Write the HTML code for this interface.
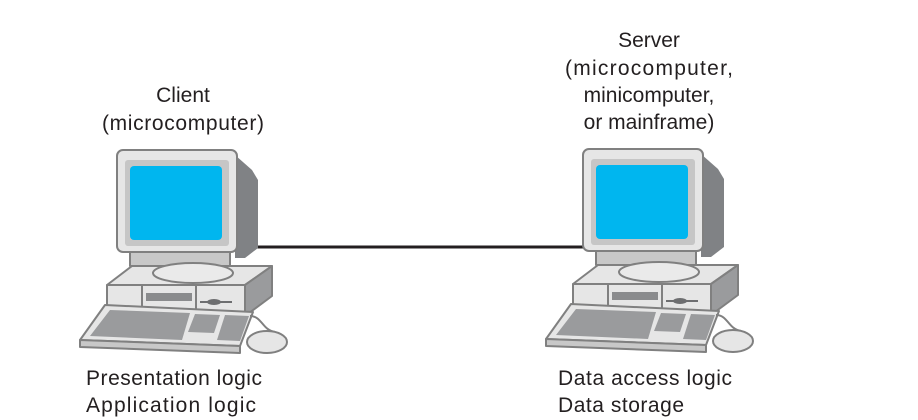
<!DOCTYPE html>
<html><head><style>
html,body{margin:0;padding:0;background:#fff;}
svg{display:block;}
text{font-family:"Liberation Sans",sans-serif;font-size:21px;fill:#231f20;}
</style></head><body>
<svg width="918" height="420" viewBox="0 0 918 420">
<defs>
<g id="pc" stroke="#808080" stroke-width="2" stroke-linejoin="round">
  <polygon points="107,285 132,266 272,266 245,285" fill="#e6e6e6"/>
  <polygon points="245,285 272,266 272,296 245,316" fill="#9a9b9d"/>
  <rect x="107" y="285" width="138" height="31" fill="#e6e6e6"/>
  <line x1="142" y1="285" x2="142" y2="316"/>
  <line x1="196" y1="285" x2="196" y2="316"/>
  <rect x="146" y="293" width="46" height="8" fill="#8a8b8d" stroke="none"/>
  <line x1="200" y1="302" x2="232" y2="302" stroke="#6d6e70"/>
  <ellipse cx="214" cy="302" rx="7" ry="3" fill="#6d6e70" stroke="none"/>
  <rect x="130" y="250" width="100" height="16" fill="#c8c8c8"/>
  <ellipse cx="193" cy="273" rx="40" ry="10" fill="#eaeaea"/>
  <polygon points="235,155 252,170 258,180 258,248 245,258 235,258" fill="#808285" stroke="none"/>
  <rect x="117" y="150" width="120" height="102" rx="6" fill="#e6e6e6"/>
  <rect x="125" y="160" width="104" height="86" rx="3" fill="#c6c6c6" stroke="none"/>
  <rect x="130" y="166" width="92" height="74" rx="4" fill="#00b6ef" stroke="none"/>
  <polygon points="105,305 253,312 240,346 80,340" fill="#e6e6e6"/>
  <polygon points="80,340 240,346 240,353 80,347" fill="#c8c8c8"/>
  <polygon points="110,310 190,313 182,340 90,336" fill="#9a9b9d" stroke="none"/>
  <polygon points="195,314 220,315 214,333 188,332" fill="#9a9b9d" stroke="none"/>
  <polygon points="225,315 249,316 240,341 217,340" fill="#9a9b9d" stroke="none"/>
  <path d="M250,316 C262,316 262,330 275,332" fill="none"/>
  <ellipse cx="267" cy="342" rx="20" ry="11" fill="#e6e6e6"/>
</g>
</defs>
<line x1="240" y1="247" x2="590" y2="247" stroke="#231f20" stroke-width="3"/>
<use href="#pc"/>
<use href="#pc" transform="translate(466,-1)"/>
<text x="183" y="102" text-anchor="middle">Client</text>
<text x="183" y="130" text-anchor="middle" textLength="162">(microcomputer)</text>
<text x="649" y="47" text-anchor="middle">Server</text>
<text x="649" y="75" text-anchor="middle" textLength="168">(microcomputer,</text>
<text x="649" y="102" text-anchor="middle">minicomputer,</text>
<text x="649" y="129" text-anchor="middle">or mainframe)</text>
<text x="86" y="385" textLength="176">Presentation logic</text>
<text x="86" y="412" textLength="170">Application logic</text>
<text x="558" y="385" textLength="174">Data access logic</text>
<text x="558" y="412" textLength="126">Data storage</text>
</svg>
</body></html>
